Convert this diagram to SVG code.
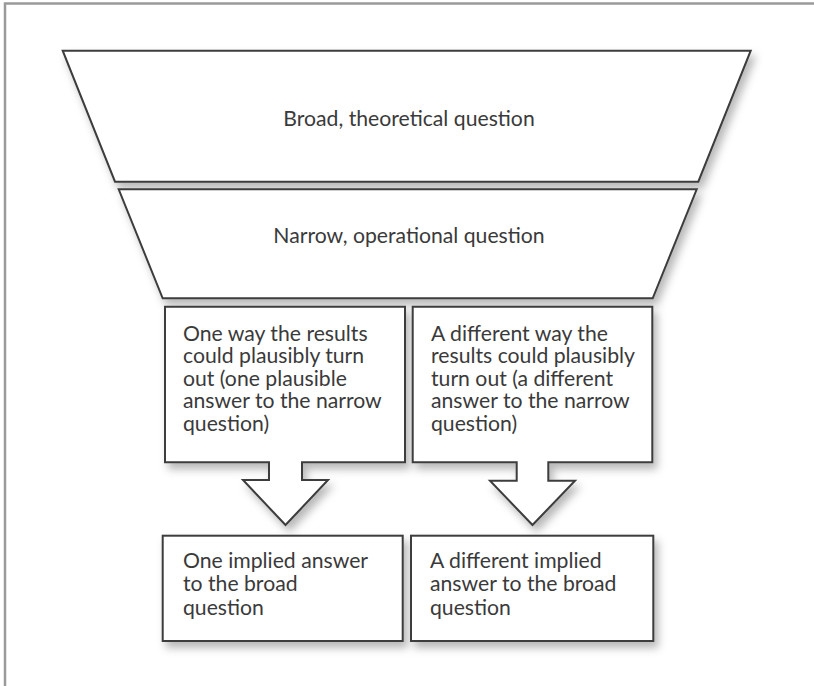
<svg xmlns="http://www.w3.org/2000/svg" width="814" height="686" viewBox="0 0 814 686">
<style>
.shape{fill:#fff;stroke:#3c3c3c;stroke-width:2;stroke-linejoin:miter;filter:url(#sh)}
.t{font-family:Lato,"Open Sans","Liberation Sans",sans-serif;font-size:21.2px;font-weight:400;fill:#3a3a3a}
.h{font-size:21.2px}
.c{text-anchor:middle}
.frame{stroke:#9a9a9a;stroke-width:2.5;fill:none}
</style>
<defs>
<filter id="sh" x="-10%" y="-10%" width="130%" height="140%">
<feDropShadow dx="4" dy="6" stdDeviation="4" flood-color="#000" flood-opacity="0.28"/>
</filter>
</defs>
<rect width="814" height="686" fill="#fff"/>
<path class="frame" d="M5,686 V3.5 H814"/>
<g id="broad">
<path class="shape" d="M62.7,50.7 L750.7,50.7 L698.3,181.7 L115,181.7 Z"/>
<text class="t h c" x="409" y="125.7">Broad, theoretical question</text>
</g>
<g id="narrow">
<path class="shape" d="M118.7,189.3 L696.7,189.3 L652.7,298.3 L162.7,298.3 Z"/>
<text class="t h c" x="409" y="243">Narrow, operational question</text>
</g>
<g id="result1">
<path class="shape" d="M165,306.7 H405 V462.3 H302 V480 H328 L285.5,525 L243,480 H269 V462.3 H165 Z"/>
<text class="t" x="183" y="341">One way the results<tspan x="183" dy="22.4">could plausibly turn</tspan><tspan x="183" dy="22.4">out (one plausible</tspan><tspan x="183" dy="22.4">answer to the narrow</tspan><tspan x="183" dy="22.4">question)</tspan></text>
</g>
<g id="result2">
<path class="shape" d="M412.7,306.7 H652.3 V462.3 H548.3 V480.7 H575 L532.5,525 L490,480.7 H516.7 V462.3 H412.7 Z"/>
<text class="t" x="431" y="341">A different way the<tspan x="431" dy="22.4">results could plausibly</tspan><tspan x="431" dy="22.4">turn out (a different</tspan><tspan x="431" dy="22.4">answer to the narrow</tspan><tspan x="431" dy="22.4">question)</tspan></text>
</g>
<g id="answer1">
<rect class="shape" x="162.7" y="535.7" width="240" height="105.3"/>
<text class="t" x="183" y="567.7">One implied answer<tspan x="183" dy="23.7">to the broad</tspan><tspan x="183" dy="23.6">question</tspan></text>
</g>
<g id="answer2">
<rect class="shape" x="411" y="535.7" width="242.3" height="105.3"/>
<text class="t" x="430" y="567.7">A different implied<tspan x="430" dy="23.7">answer to the broad</tspan><tspan x="430" dy="23.6">question</tspan></text>
</g>
<g id="connectors"></g>
</svg>
